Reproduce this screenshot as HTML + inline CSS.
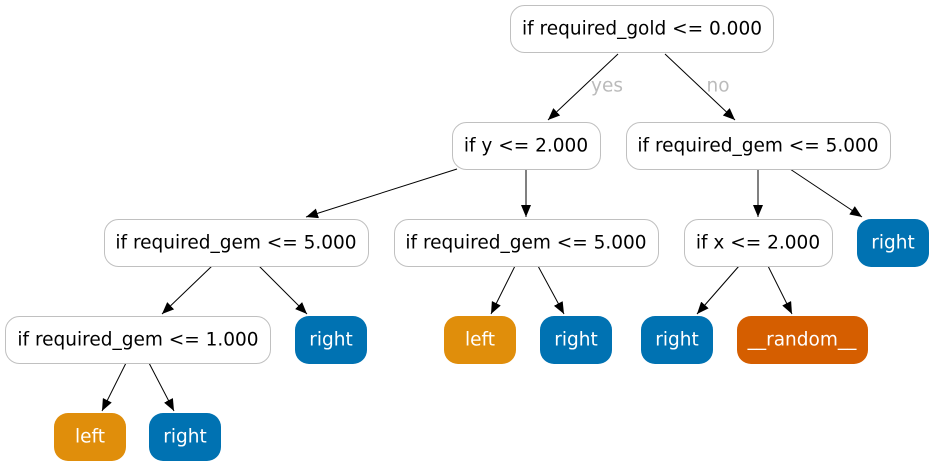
<!DOCTYPE html>
<html><head><meta charset="utf-8"><style>
html,body{margin:0;padding:0;background:#fff;}
svg{display:block;}
text{font-family:"DejaVu Sans",sans-serif;font-size:18.5px;text-anchor:middle;dominant-baseline:central;}
.n{fill:#fff;stroke:#c0c0c0;stroke-width:1;}
.w{fill:#fff;}
.k{fill:#000;}
line{stroke:#000;stroke-width:1;}
</style></head><body>
<svg width="934" height="467" viewBox="0 0 934 467">
<defs><marker id="a" markerWidth="12" markerHeight="10" refX="12" refY="5" orient="auto" markerUnits="userSpaceOnUse"><path d="M0,0 L12,5 L0,10 z" fill="#000"/></marker></defs>
<g marker-end="url(#a)">
<line x1="618" y1="54" x2="548" y2="120"/>
<line x1="665" y1="54" x2="735" y2="120"/>
<line x1="457" y1="169" x2="306" y2="217"/>
<line x1="526" y1="169" x2="526" y2="217"/>
<line x1="758" y1="169" x2="758" y2="217"/>
<line x1="790" y1="169" x2="862" y2="217"/>
<line x1="212" y1="266" x2="162" y2="314"/>
<line x1="259" y1="266" x2="307" y2="314"/>
<line x1="515" y1="266" x2="491" y2="314"/>
<line x1="538" y1="266" x2="564" y2="314"/>
<line x1="739" y1="266" x2="697" y2="314"/>
<line x1="768" y1="266" x2="792" y2="314"/>
<line x1="126" y1="363" x2="102" y2="411"/>
<line x1="149" y1="363" x2="174" y2="411"/>
</g>
<text x="607" y="86" style="fill:#bbb">yes</text>
<text x="718" y="86" style="fill:#bbb">no</text>

<rect class="n" x="510.5" y="5.5" width="263" height="47" rx="14"/><text class="k" x="642" y="29">if required_gold &lt;= 0.000</text>
<rect class="n" x="452.5" y="122.5" width="148" height="47" rx="14"/><text class="k" x="526" y="146">if y &lt;= 2.000</text>
<rect class="n" x="626.5" y="122.5" width="264" height="47" rx="14"/><text class="k" x="758" y="146">if required_gem &lt;= 5.000</text>
<rect class="n" x="104.5" y="219.5" width="264" height="47" rx="14"/><text class="k" x="236" y="243">if required_gem &lt;= 5.000</text>
<rect class="n" x="394.5" y="219.5" width="264" height="47" rx="14"/><text class="k" x="526" y="243">if required_gem &lt;= 5.000</text>
<rect class="n" x="684.5" y="219.5" width="148" height="47" rx="14"/><text class="k" x="758" y="243">if x &lt;= 2.000</text>
<rect x="857" y="219" width="72" height="48" rx="14" fill="#0072b2"/><text class="w" x="893" y="243">right</text>
<rect class="n" x="5.5" y="316.5" width="265" height="47" rx="14"/><text class="k" x="138" y="340">if required_gem &lt;= 1.000</text>
<rect x="295" y="316" width="72" height="48" rx="14" fill="#0072b2"/><text class="w" x="331" y="340">right</text>
<rect x="444" y="316" width="72" height="48" rx="14" fill="#e08e0b"/><text class="w" x="480" y="340">left</text>
<rect x="540" y="316" width="72" height="48" rx="14" fill="#0072b2"/><text class="w" x="576" y="340">right</text>
<rect x="641" y="316" width="72" height="48" rx="14" fill="#0072b2"/><text class="w" x="677" y="340">right</text>
<rect x="737" y="316" width="131" height="48" rx="14" fill="#d55e00"/><text class="w" x="802" y="340">__random__</text>
<rect x="54" y="413" width="72" height="48" rx="14" fill="#e08e0b"/><text class="w" x="90" y="437">left</text>
<rect x="149" y="413" width="72" height="48" rx="14" fill="#0072b2"/><text class="w" x="185" y="437">right</text>
</svg>
</body></html>
